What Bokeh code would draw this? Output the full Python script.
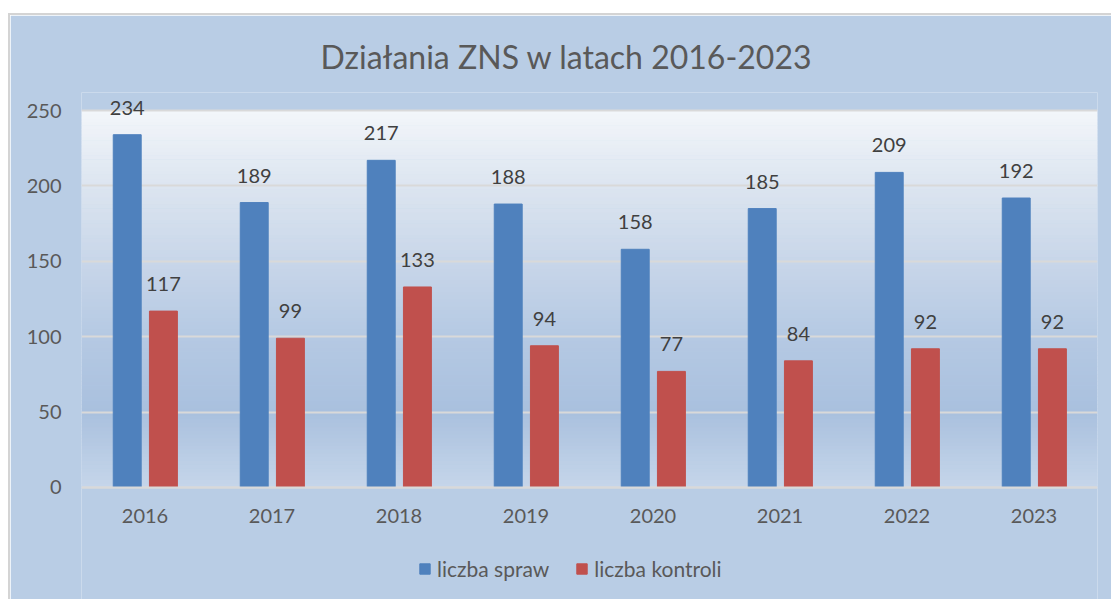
from bokeh.plotting import figure
from bokeh.models import (FactorRange, BoxAnnotation, Legend, LegendItem, ColumnDataSource,
                          FixedTicker, Spacer)
from bokeh.layouts import column, row
from bokeh.transform import dodge
from bokeh.core.properties import value
from bokeh.embed import file_html
from bokeh.resources import INLINE

years = ["2016", "2017", "2018", "2019", "2020", "2021", "2022", "2023"]
liczba_spraw = [234, 189, 217, 188, 158, 185, 209, 192]
liczba_kontroli = [117, 99, 133, 94, 77, 84, 92, 92]
y_ticks = [0, 50, 100, 150, 200, 250]

title = "Działania ZNS w latach 2016-2023"
series_names = ["liczba spraw", "liczba kontroli"]
colors = ["#4f81bd", "#c0504d"]

FONT = "Lato"
TXT = "#595959"
BG = "#b9cde5"

src = ColumnDataSource(dict(
    years=years,
    spraw=liczba_spraw,
    kontroli=liczba_kontroli,
    spraw_t=[str(v) for v in liczba_spraw],
    kontroli_t=[str(v) for v in liczba_kontroli],
))

p = figure(x_range=FactorRange(*years), y_range=(-74.3, 262),
           width=1101, height=584,
           min_border_left=71, min_border_right=14, min_border_top=77, min_border_bottom=0,
           output_backend="svg", toolbar_location=None, title=title)

p.background_fill_color = BG
p.border_fill_color = BG
p.outline_line_color = None

# gradient background of plot area (approximation with bands)
stops = [(0, (0xc6, 0xd6, 0xea)), (50, (0xa9, 0xc0, 0xde)), (100, (0xb5, 0xc9, 0xe3)),
         (150, (0xc8, 0xd6, 0xe9)), (200, (0xdc, 0xe5, 0xf0)), (250, (0xf3, 0xf6, 0xfa))]
def col_at(v):
    for (a, ca), (b, cb) in zip(stops[:-1], stops[1:]):
        if a <= v <= b:
            t = (v - a) / (b - a)
            c = [round(ca[i] + (cb[i] - ca[i]) * t) for i in range(3)]
            return "#%02x%02x%02x" % tuple(c)
    return "#ffffff"
step = 2.5
n = int(250 / step)
for i in range(n):
    lo = i * step
    hi = min(lo + step + 0.3, 250)
    p.add_layout(BoxAnnotation(bottom=lo, top=hi, fill_color=col_at(lo + step / 2),
                               fill_alpha=1.0, line_color=None, level="image"))

bw = 0.22
r1 = p.vbar(x=dodge("years", -0.14, range=p.x_range), top="spraw", width=bw, source=src,
            fill_color=colors[0], line_color=colors[0])
r2 = p.vbar(x=dodge("years", 0.145, range=p.x_range), top="kontroli", width=bw, source=src,
            fill_color=colors[1], line_color=colors[1])

for xo, col in [(-0.14, "spraw"), (0.145, "kontroli")]:
    p.text(x=dodge("years", xo, range=p.x_range), y=col, text=col + "_t", source=src,
           text_align="center", text_baseline="bottom", y_offset=-20,
           text_font=value(FONT), text_font_size="20px", text_color="#404040")

# title
p.title.text_font = FONT
p.title.text_font_size = "32px"
p.title.text_font_style = "normal"
p.title.text_color = TXT
p.title.align = "left"
p.title.offset = 239
p.title.standoff = 34

# axes
p.yaxis.ticker = FixedTicker(ticks=y_ticks)
p.yaxis.axis_line_color = None
p.yaxis.major_tick_line_color = None
p.yaxis.minor_tick_line_color = None
p.yaxis.major_label_text_font = FONT
p.yaxis.major_label_text_font_size = "20px"
p.yaxis.major_label_text_color = TXT
p.yaxis.major_label_standoff = 14

p.xaxis.fixed_location = 0
p.xaxis.axis_line_color = "#d9d9d9"
p.xaxis.axis_line_width = 2
p.xaxis.major_tick_line_color = None
p.xaxis.minor_tick_line_color = None
p.xaxis.major_label_text_font = FONT
p.xaxis.major_label_text_font_size = "20px"
p.xaxis.major_label_text_color = TXT
p.xaxis.major_label_standoff = 16

p.xgrid.grid_line_color = None
p.ygrid.grid_line_color = "#d9d9d9"
p.ygrid.grid_line_width = 2

legend = Legend(items=[LegendItem(label=series_names[0], renderers=[r1]),
                       LegendItem(label=series_names[1], renderers=[r2])],
                orientation="horizontal", location=(337, 18),
                background_fill_alpha=0, border_line_color=None,
                label_text_font=FONT, label_text_font_size="21px", label_text_color=TXT,
                glyph_width=13, glyph_height=13, label_standoff=6, spacing=26,
                margin=0, padding=0)
p.add_layout(legend, "center")

top_line = Spacer(height=2, width=1103, styles={"background-color": "#d4d4d4"})
left_line = Spacer(width=2, height=584, styles={"background-color": "#d4d4d4"})
layout = column(Spacer(height=13, width=1111),
                row(Spacer(width=8, height=586), column(top_line, row(left_line, p))))
open("out.html", "w").write(file_html(layout, INLINE))
